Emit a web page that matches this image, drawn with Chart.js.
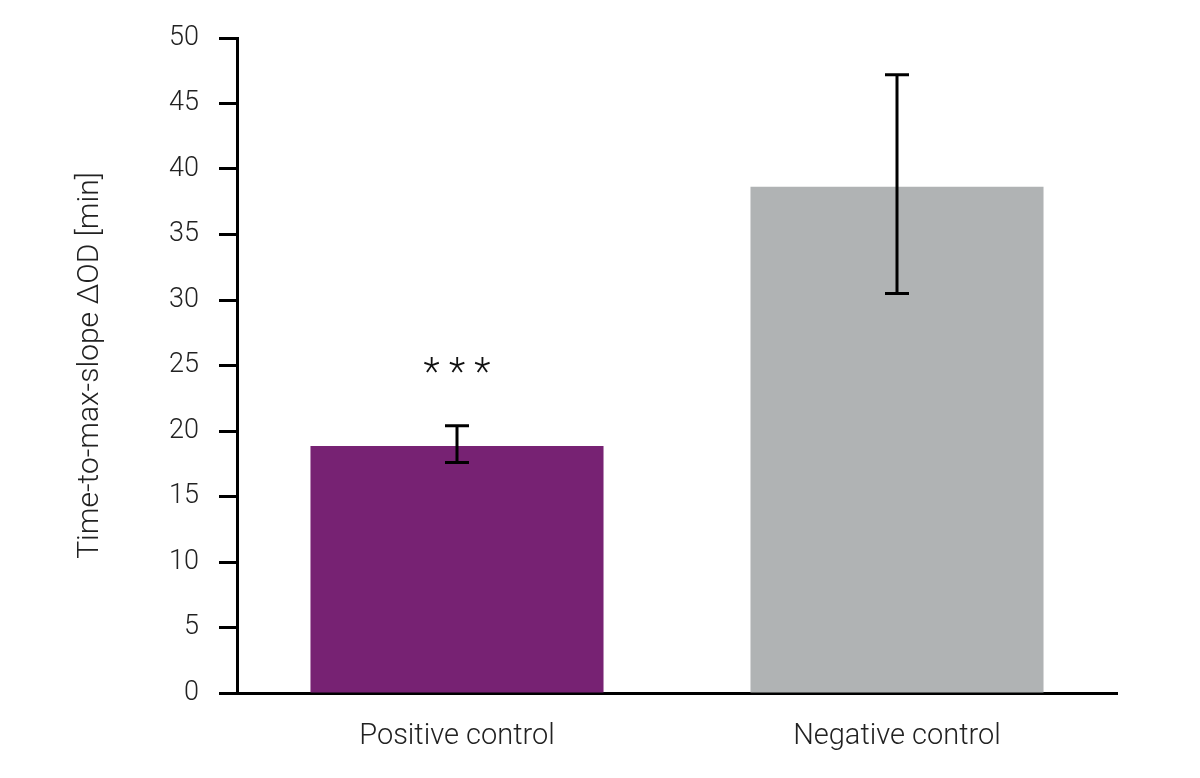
<!DOCTYPE html>
<html>
<head>
<meta charset="utf-8">
<script src="https://cdn.jsdelivr.net/npm/chart.js@4.4.1/dist/chart.umd.min.js"></script>
<style>
  html, body { margin: 0; padding: 0; background: #fff; }
  #wrap { width: 1200px; height: 778px; }
</style>
</head>
<body>
<div id="wrap"><canvas id="chart"></canvas></div>
<script>
// Data
const categories = ['Positive control', 'Negative control'];
const means = [18.85, 38.65];
const errUpper = [20.4, 47.2];
const errLower = [17.6, 30.5];
const sigLabels = ['* * *', ''];
const barColors = ['#772273', '#b0b3b4'];

const FONT = 'Roboto';

// error bars + significance stars
const errorBars = {
  id: 'errorBars',
  afterDatasetsDraw(chart) {
    const { ctx, scales: { x, y } } = chart;
    ctx.save();
    ctx.strokeStyle = '#000';
    ctx.lineWidth = 3;
    categories.forEach((c, i) => {
      const px = x.getPixelForValue(i);
      const top = y.getPixelForValue(errUpper[i]);
      const bot = y.getPixelForValue(errLower[i]);
      ctx.beginPath();
      ctx.moveTo(px, top); ctx.lineTo(px, bot);
      ctx.moveTo(px - 12, top); ctx.lineTo(px + 12, top);
      ctx.moveTo(px - 12, bot); ctx.lineTo(px + 12, bot);
      ctx.stroke();
      if (sigLabels[i]) {
        ctx.fillStyle = '#111';
        ctx.font = '300 38px ' + FONT;
        ctx.textAlign = 'center';
        ctx.textBaseline = 'middle';
        ctx.fillText(sigLabels[i], px, top - 50);
      }
    });
    ctx.restore();
  }
};

new Chart(document.getElementById('chart'), {
  type: 'bar',
  data: {
    labels: categories,
    datasets: [{
      data: means,
      backgroundColor: barColors,
      borderWidth: 0,
      categoryPercentage: 1,
      barPercentage: 0.666
    }]
  },
  options: {
    responsive: true,
    maintainAspectRatio: false,
    animation: false,
    devicePixelRatio: 1,
    layout: { padding: { top: 38, right: 83, left: 72, bottom: 0 } },
    plugins: { legend: { display: false }, tooltip: { enabled: false } },
    scales: {
      x: {
        grid: { display: false, drawTicks: false },
        border: { display: true, color: '#000', width: 3 },
        ticks: { color: '#222', font: { family: FONT, size: 29, weight: '300' }, padding: 26 },
        afterFit(s) { s.height = 778 - 693; }
      },
      y: {
        min: 0,
        max: 50,
        grid: { drawOnChartArea: false, drawTicks: true, tickLength: 18, tickWidth: 3, tickColor: '#000' },
        border: { display: true, color: '#000', width: 3 },
        ticks: { stepSize: 5, color: '#222', font: { family: FONT, size: 27, weight: '300' }, padding: 20 },
        title: {
          display: true,
          text: 'Time-to-max-slope ΔOD [min]',
          color: '#222',
          font: { family: FONT, size: 30, weight: '300' },
          padding: 0
        },
        afterFit(s) { s.width = 237 - 72; }
      }
    }
  },
  plugins: [errorBars]
});
</script>
</body>
</html>
